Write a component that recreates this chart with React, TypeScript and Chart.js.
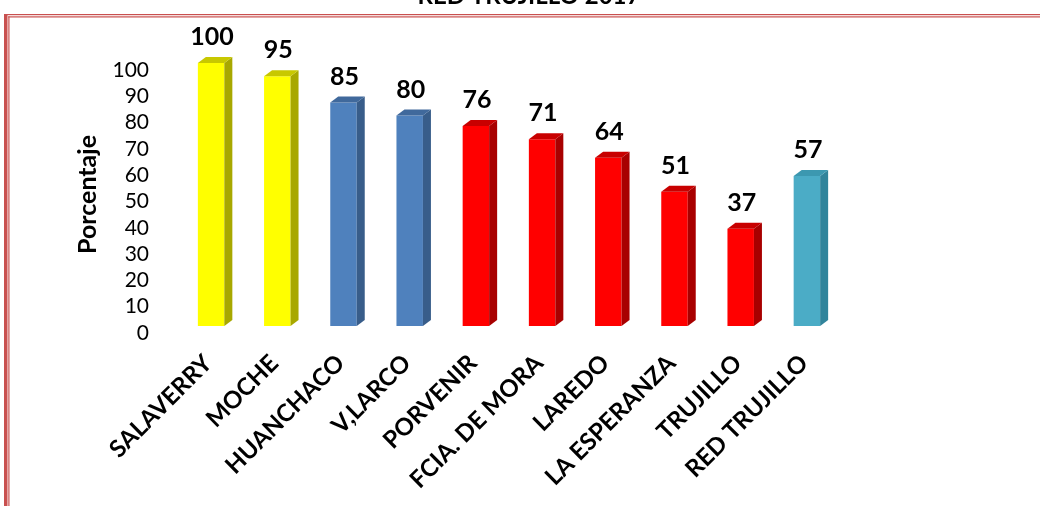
import React, { useEffect, useRef } from "react";
import { Chart, registerables } from "chart.js";

Chart.register(...registerables);

const categories = [
  "SALAVERRY",
  "MOCHE",
  "HUANCHACO",
  "V,LARCO",
  "PORVENIR",
  "FCIA. DE MORA",
  "LAREDO",
  "LA ESPERANZA",
  "TRUJILLO",
  "RED TRUJILLO",
];
const values = [100, 95, 85, 80, 76, 71, 64, 51, 37, 57];
const yTicks = [0, 10, 20, 30, 40, 50, 60, 70, 80, 90, 100];
const titleText = "RED TRUJILLO 2017";
const yAxisTitle = "Porcentaje";

const frontColors = ["#ffff00", "#ffff00", "#4f81bd", "#4f81bd", "#ff0000", "#ff0000", "#ff0000", "#ff0000", "#ff0000", "#4bacc6"];
const sideColors = ["#a8a800", "#a8a800", "#385d8a", "#385d8a", "#a80000", "#a80000", "#a80000", "#a80000", "#a80000", "#31849b"];
const topColors = ["#c8c800", "#c8c800", "#40699c", "#40699c", "#c80000", "#c80000", "#c80000", "#c80000", "#c80000", "#3c98b0"];

const FONT = "Lato, 'Open Sans', sans-serif";
const BORDER = "#c9504f";
const DX = 8;
const DY = 6;

const decoPlugin = {
  id: "deco",
  beforeDraw(chart: any) {
    const ctx = chart.ctx;
    ctx.save();
    ctx.fillStyle = "#ffffff";
    ctx.fillRect(0, 0, chart.width, chart.height);
    // page border
    ctx.fillStyle = BORDER;
    ctx.fillRect(4, 14, 3.5, chart.height - 14);
    ctx.fillRect(8.3, 16.3, 1.2, chart.height - 16);
    ctx.fillRect(4, 14, chart.width - 4, 1.2);
    ctx.fillRect(8.3, 16.3, chart.width - 8, 1.2);
    // cut-off title
    ctx.fillStyle = "#000000";
    ctx.font = `bold 24px ${FONT}`;
    ctx.textAlign = "center";
    ctx.textBaseline = "alphabetic";
    ctx.fillText(titleText, 529, 3.5);
    ctx.restore();
  },
  afterDatasetsDraw(chart: any) {
    const ctx = chart.ctx;
    const meta = chart.getDatasetMeta(0);
    ctx.save();
    meta.data.forEach((bar: any, i: number) => {
      const { x, y, base, width } = bar.getProps(["x", "y", "base", "width"], true);
      const l = x - width / 2;
      const r = x + width / 2;
      ctx.fillStyle = sideColors[i];
      ctx.beginPath();
      ctx.moveTo(r, y);
      ctx.lineTo(r + DX, y - DY);
      ctx.lineTo(r + DX, base - DY);
      ctx.lineTo(r, base);
      ctx.closePath();
      ctx.fill();
      ctx.fillStyle = topColors[i];
      ctx.beginPath();
      ctx.moveTo(l, y);
      ctx.lineTo(r, y);
      ctx.lineTo(r + DX, y - DY);
      ctx.lineTo(l + DX, y - DY);
      ctx.closePath();
      ctx.fill();
      ctx.fillStyle = "#000000";
      ctx.font = `bold 25px ${FONT}`;
      ctx.textAlign = "center";
      ctx.textBaseline = "middle";
      ctx.fillText(String(values[i]), x + 1, y - 26);
    });
    ctx.restore();
  },
};

export default function App() {
  const ref = useRef<HTMLCanvasElement>(null);
  useEffect(() => {
    if (!ref.current) return;
    const chart = new Chart(ref.current, {
      type: "bar",
      data: {
        labels: categories,
        datasets: [
          {
            data: values,
            backgroundColor: frontColors,
            borderWidth: 0,
            barPercentage: 0.4,
            categoryPercentage: 1,
          },
        ],
      },
      options: {
        animation: false,
        responsive: false,
        maintainAspectRatio: false,
        layout: { padding: { top: 63, right: 200, left: 0, bottom: 0 } },
        plugins: {
          legend: { display: false },
          tooltip: { enabled: false },
          title: { display: false },
        },
        scales: {
          x: {
            grid: { display: false, drawTicks: false },
            border: { display: false },
            ticks: {
              color: "#000000",
              font: { family: FONT, size: 24, weight: "bold" },
              minRotation: 45,
              maxRotation: 45,
              autoSkip: false,
              padding: 23,
              labelOffset: -3,
            },
            afterFit(scale: any) {
              scale.height = 180;
            },
          },
          y: {
            min: 0,
            max: 100,
            afterBuildTicks(scale: any) {
              scale.ticks = yTicks.map((v) => ({ value: v }));
            },
            grid: { display: false, drawTicks: false },
            border: { display: false },
            ticks: {
              color: "#000000",
              font: { family: FONT, size: 21 },
              padding: 29,
              labelOffset: 7,
              autoSkip: false,
            },
            title: {
              display: true,
              text: yAxisTitle,
              color: "#000000",
              font: { family: FONT, size: 25, weight: "bold" },
              padding: { top: 73, bottom: 0 },
            },
            afterFit(scale: any) {
              scale.width = 178;
            },
          },
        },
      },
      plugins: [decoPlugin],
    });
    return () => chart.destroy();
  }, []);
  return (
    <div style={{ position: "fixed", left: 0, top: 0, width: 1040, height: 506, background: "#fff" }}>
      <canvas ref={ref} width={1040} height={506} style={{ display: "block" }} />
    </div>
  );
}
